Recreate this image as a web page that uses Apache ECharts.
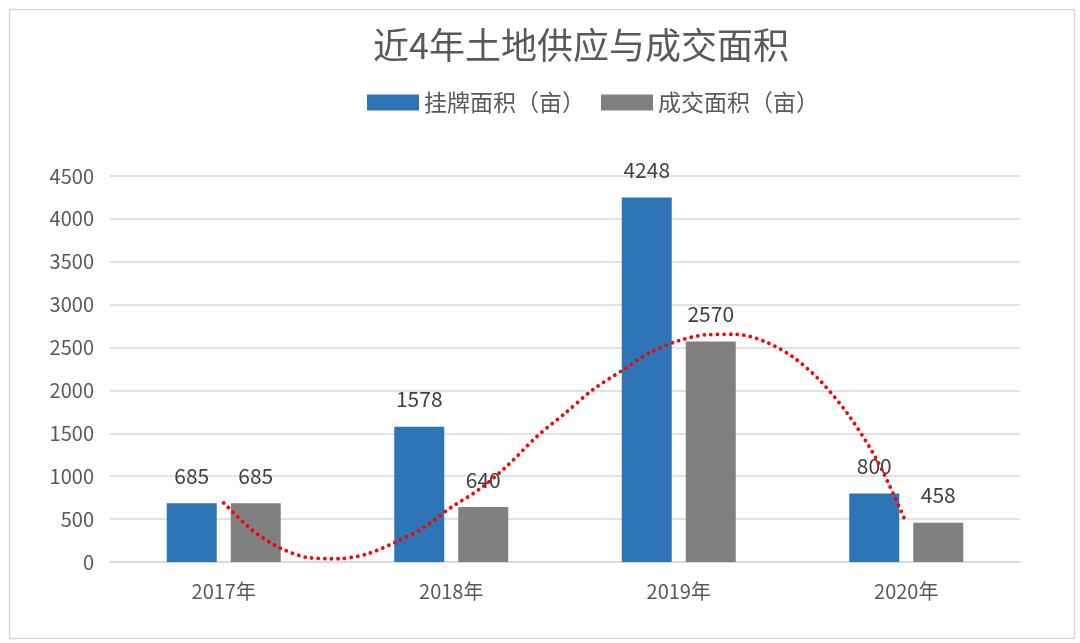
<!DOCTYPE html>
<html>
<head>
<meta charset="utf-8">
<script src="https://cdn.jsdelivr.net/npm/echarts@6/dist/echarts.min.js"></script>
<style>
html,body{margin:0;padding:0;background:#fff;}
#chart{width:1080px;height:643px;}
</style>
</head>
<body>
<div id="chart"></div>
<script>
const categories = ['2017年', '2018年', '2019年', '2020年'];
const listedArea = [685, 1578, 4248, 800];
const tradedArea = [685, 640, 2570, 458];
const yTicks = [0, 500, 1000, 1500, 2000, 2500, 3000, 3500, 4000, 4500];
// trend curve (x in category-index units, 1 = 2017)
const trendX = [1, 1.125, 1.25, 1.375, 1.5, 1.625, 1.75, 1.875, 2, 2.125, 2.25, 2.375, 2.5,
                2.625, 2.75, 2.875, 3, 3.125, 3.25, 3.375, 3.5, 3.625, 3.75, 3.875, 4];
const trendY = [688, 373, 160, 50, 38, 90, 225, 396, 638, 851, 1131, 1460, 1734,
                2014, 2231, 2445, 2580, 2650, 2655, 2574, 2394, 2104, 1700, 1170, 458];

const FONT = '"Noto Sans CJK SC", "Noto Sans", sans-serif';
const chart = echarts.init(document.getElementById('chart'));
const labelStyle = { show: true, position: 'top', distance: 17, color: '#404040', fontSize: 21, fontFamily: FONT };

chart.setOption({
  animation: false,
  backgroundColor: '#fff',
  graphic: [{
    type: 'rect', left: 7, top: 7, z: -10,
    shape: { width: 1065, height: 629 },
    style: { fill: 'none', stroke: '#d9d9d9', lineWidth: 1.5 }
  }],
  title: {
    text: '近4年土地供应与成交面积',
    left: 368, top: 22,
    textStyle: { fontSize: 36, fontWeight: 'normal', color: '#595959', fontFamily: FONT }
  },
  legend: {
    data: ['挂牌面积（亩）', '成交面积（亩）'],
    left: 362, top: 86,
    itemWidth: 52, itemHeight: 16, itemGap: 16,
    icon: 'rect',
    textStyle: { fontSize: 23, color: '#595959', fontFamily: FONT }
  },
  grid: { left: 110, right: 60, top: 176, bottom: 81, containLabel: false },
  xAxis: [{
    type: 'category', data: categories,
    axisLine: { lineStyle: { color: '#d9d9d9', width: 1.5 } },
    axisTick: { show: false },
    axisLabel: { color: '#595959', fontSize: 20, margin: 19, fontFamily: FONT }
  }, {
    type: 'value', min: 0.5, max: 4.5, show: false
  }],
  yAxis: {
    type: 'value', min: yTicks[0], max: yTicks[yTicks.length - 1], interval: 500,
    axisLine: { show: false }, axisTick: { show: false },
    axisLabel: { color: '#595959', fontSize: 20, margin: 16, fontFamily: FONT, formatter: v => String(v) },
    splitLine: { lineStyle: { color: '#d9d9d9', width: 1.5 } }
  },
  series: [{
    name: '挂牌面积（亩）', type: 'bar', data: listedArea,
    barWidth: 50, barGap: '28%',
    itemStyle: { color: '#2E75B6' },
    label: labelStyle
  }, {
    name: '成交面积（亩）', type: 'bar', data: tradedArea,
    barWidth: 50,
    itemStyle: { color: '#808080' },
    label: labelStyle
  }, {
    name: 'trend', type: 'line', xAxisIndex: 1,
    data: trendX.map((x, i) => [x, trendY[i]]),
    smooth: 0.3, symbol: 'none', z: 10,
    lineStyle: { color: '#FF0000', width: 3.8, type: [0.01, 6.6], cap: 'round' }
  }]
});
</script>
</body>
</html>
